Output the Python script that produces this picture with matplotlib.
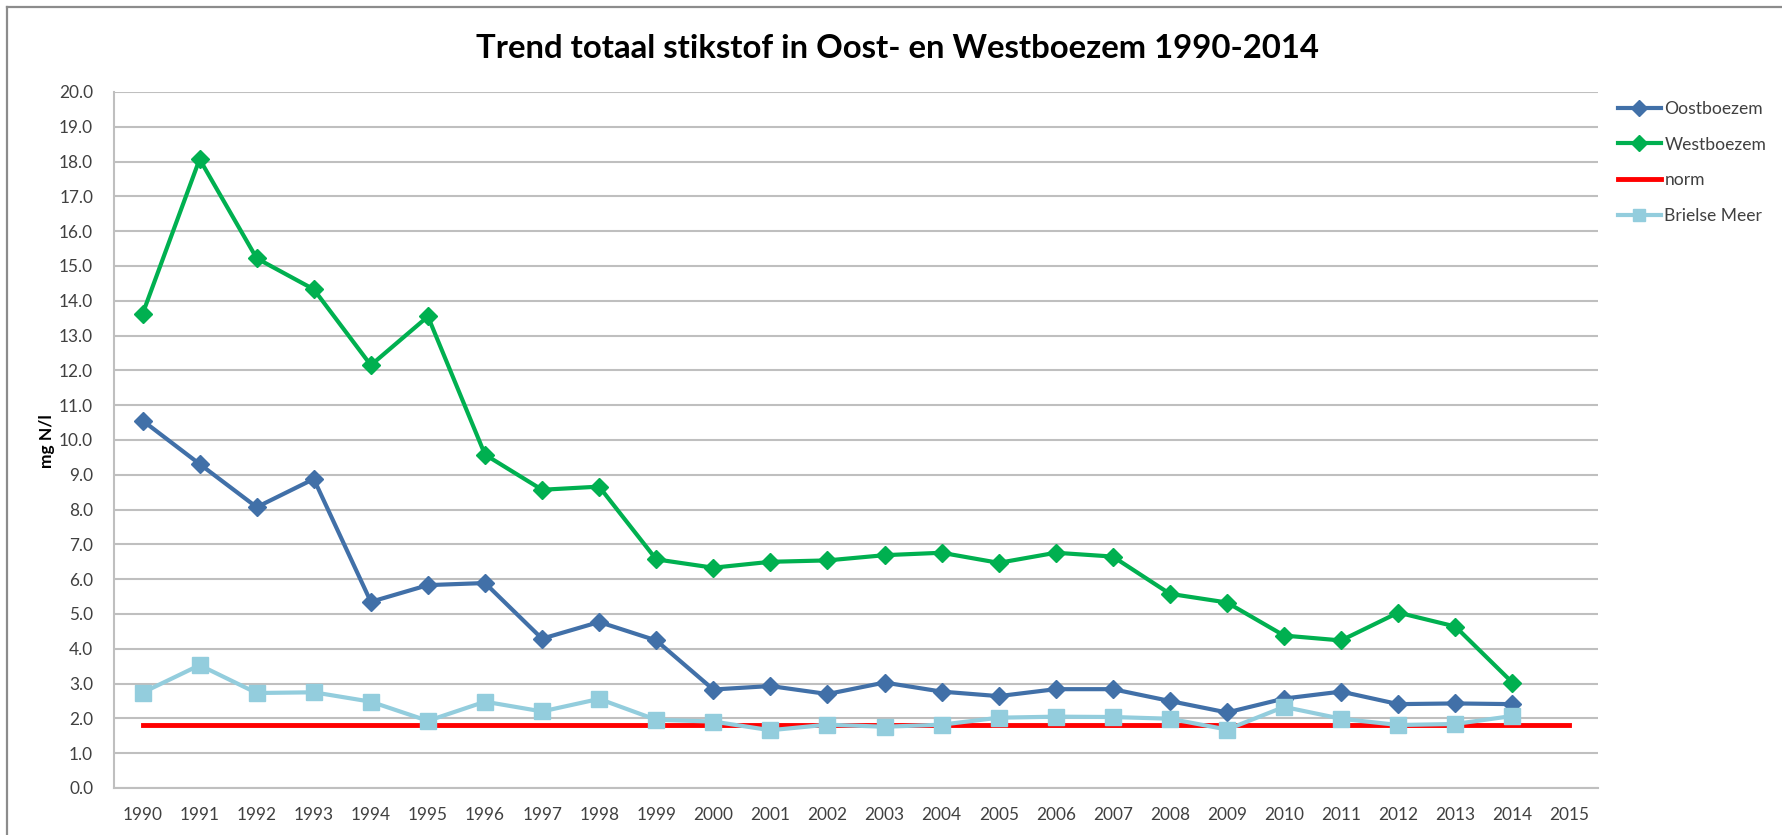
import numpy as np
import matplotlib
matplotlib.use("Agg")
import matplotlib.pyplot as plt
from matplotlib.lines import Line2D

# Data
years = [str(y) for y in range(1990, 2016)]

oostboezem = [10.56, 9.31, 8.07, 8.88, 5.35, 5.83, 5.89, 4.29, 4.77, 4.24,
              2.83, 2.93, 2.70, 3.03, 2.77, 2.64, 2.84, 2.84, 2.50, 2.17,
              2.57, 2.77, 2.41, 2.43, 2.41]
westboezem = [13.62, 18.07, 15.22, 14.33, 12.15, 13.55, 9.58, 8.57, 8.66, 6.57,
              6.33, 6.50, 6.54, 6.69, 6.76, 6.47, 6.76, 6.65, 5.58, 5.33,
              4.38, 4.24, 5.04, 4.64, 3.03]
norm = [1.8] * 26
brielse_meer = [2.74, 3.53, 2.73, 2.75, 2.48, 1.93, 2.48, 2.20, 2.56, 1.96,
                1.91, 1.66, 1.82, 1.76, 1.82, 2.02, 2.05, 2.04, 1.99, 1.68,
                2.33, 1.99, 1.81, 1.84, 2.07]

plt.rcParams['font.family'] = ['Lato', 'DejaVu Sans']

W, H = 1783, 835
fig = plt.figure(figsize=(W / 100, H / 100), dpi=100, facecolor='white')

# frame of the chart area (only top and left are in view)
fig.add_artist(Line2D([7 / W, 7 / W], [0, 1 - 7 / H], color='#8c8c8c', lw=1.6))
fig.add_artist(Line2D([7 / W, 1], [1 - 7 / H, 1 - 7 / H], color='#8c8c8c', lw=1.6))

ax = fig.add_axes([114 / W, 47 / H, 1484 / W, 696 / H])

x = np.arange(len(years))

ax.plot(x[:len(oostboezem)], oostboezem, color='#4170a8', lw=3, marker='D',
        ms=9, label='Oostboezem', zorder=4)
ax.plot(x[:len(westboezem)], westboezem, color='#00b050', lw=3, marker='D',
        ms=9, label='Westboezem', zorder=4)
ax.plot(x, norm, color='#ff0000', lw=3.5, label='norm', zorder=3)
ax.plot(x[:len(brielse_meer)], brielse_meer, color='#93cddd', lw=3, marker='s',
        ms=11, label='Brielse Meer', zorder=5)

ax.set_xlim(-0.5, len(years) - 0.5)
ax.set_ylim(0, 20)
ax.set_xticks(x)
ax.set_xticklabels(years)
ax.set_yticks(np.arange(0, 21, 1))
ax.set_yticklabels(['%.1f' % v for v in np.arange(0, 21, 1)])
ax.tick_params(axis='both', length=0, labelsize=12.4, colors='#404040')
ax.tick_params(axis='y', pad=15)
ax.tick_params(axis='x', pad=14)

ax.grid(axis='y', color='#bfbfbf', lw=1.5)
ax.set_axisbelow(True)
for side in ['top', 'right']:
    ax.spines[side].set_visible(False)
ax.spines['left'].set_color('#bfbfbf')
ax.spines['bottom'].set_color('#bfbfbf')
ax.spines['left'].set_linewidth(1.5)
ax.spines['bottom'].set_linewidth(1.5)

fig.text(47 / W, 1 - 441 / H, 'mg N/l', rotation=90, ha='center', va='center',
         fontsize=12.5, fontweight='bold', color='black')

fig.text(898 / W, 1 - 49 / H, 'Trend totaal stikstof in Oost- en Westboezem 1990-2014',
         ha='center', va='center', fontsize=23.7, fontweight='bold', color='black')

leg = fig.legend(loc='upper left', bbox_to_anchor=(1618 / W, 1 - 101 / H),
                 frameon=False, fontsize=12.6, handlelength=2.45,
                 handletextpad=0.2, labelspacing=1.12, borderaxespad=0,
                 borderpad=0)
for h in leg.legend_handles:
    h.set_markersize(8)
for t in leg.get_texts():
    t.set_color('#404040')

fig.savefig('out.png', dpi=100, facecolor='white')
